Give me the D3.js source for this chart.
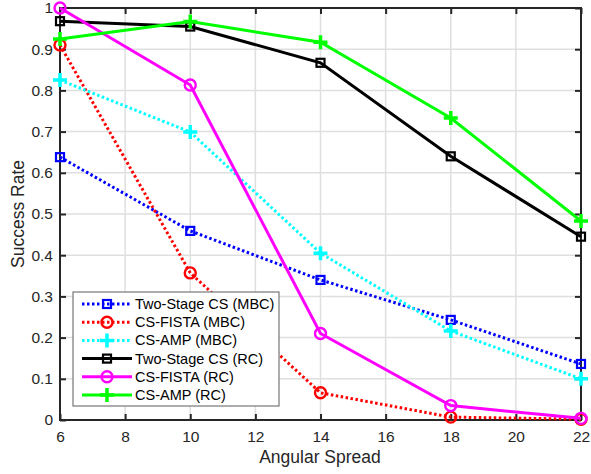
<!DOCTYPE html>
<html><head><meta charset="utf-8">
<script src="https://cdn.jsdelivr.net/npm/d3@7"></script>
<style>body{margin:0;background:#fff;} text{font-family:"Liberation Sans",Arial,Helvetica,sans-serif;}</style>
</head><body><svg id="c" width="591" height="474"></svg>
<script>
const xValues = [6, 10, 14, 18, 22];
const xTicks = [6, 8, 10, 12, 14, 16, 18, 20, 22];
const yTicks = [0, 0.1, 0.2, 0.3, 0.4, 0.5, 0.6, 0.7, 0.8, 0.9, 1];
const seriesNames = ["Two-Stage CS (MBC)", "CS-FISTA (MBC)", "CS-AMP (MBC)", "Two-Stage CS (RC)", "CS-FISTA (RC)", "CS-AMP (RC)"];
const twoStageMBC = [0.638, 0.459, 0.340, 0.243, 0.136];
const fistaMBC    = [0.910, 0.357, 0.066, 0.007, 0.002];
const ampMBC      = [0.825, 0.699, 0.405, 0.216, 0.100];
const twoStageRC  = [0.968, 0.955, 0.867, 0.640, 0.445];
const fistaRC     = [1.000, 0.813, 0.210, 0.035, 0.004];
const ampRC       = [0.925, 0.967, 0.917, 0.733, 0.483];
const seriesValues = [twoStageMBC, fistaMBC, ampMBC, twoStageRC, fistaRC, ampRC];
const colors = ["#0000ff", "#ff0000", "#00ffff", "#000000", "#ff00ff", "#00ff00"];
const markers = ["square", "circle", "plus", "square", "circle", "plus"];
const dotted = [true, true, true, false, false, false];

const svg = d3.select("#c");
const L = 60, R = 581, T = 8, B = 420;
const x = d3.scaleLinear().domain([6, 22]).range([L, R]);
const y = d3.scaleLinear().domain([0, 1]).range([B, T]);
const axisCol = "#262626";

// grid
const g = svg.append("g");
g.selectAll(".gx").data(xTicks).enter().append("line")
  .attr("x1", d => x(d)).attr("x2", d => x(d)).attr("y1", T).attr("y2", B)
  .attr("stroke", "#dfdfdf").attr("stroke-width", 1.5);
g.selectAll(".gy").data(yTicks).enter().append("line")
  .attr("y1", d => y(d)).attr("y2", d => y(d)).attr("x1", L).attr("x2", R)
  .attr("stroke", "#dfdfdf").attr("stroke-width", 1.5);

// axes
const xa = svg.append("g").attr("transform", `translate(0,${B})`)
  .call(d3.axisBottom(x).tickValues(xTicks).tickSize(-6).tickPadding(11).tickFormat(d3.format("d")));
const xt = svg.append("g").attr("transform", `translate(0,${T})`)
  .call(d3.axisTop(x).tickValues(xTicks).tickSize(-6).tickFormat(""));
const ya = svg.append("g").attr("transform", `translate(${L},0)`)
  .call(d3.axisLeft(y).tickValues(yTicks).tickSize(-6).tickPadding(7).tickFormat(d => d === 0 ? "0" : d === 1 ? "1" : d3.format(".1f")(d)));
const yr = svg.append("g").attr("transform", `translate(${R},0)`)
  .call(d3.axisRight(y).tickValues(yTicks).tickSize(-6).tickFormat(""));
[xa, xt, ya, yr].forEach(a => {
  a.select(".domain").remove();
  a.selectAll(".tick line").attr("stroke", axisCol).attr("stroke-width", 2);
  a.selectAll("text").attr("fill", axisCol).attr("font-size", 15.5);
});
svg.append("rect").attr("x", L).attr("y", T).attr("width", R - L).attr("height", B - T)
  .attr("fill", "none").attr("stroke", axisCol).attr("stroke-width", 2);

// series
const line = d3.line().x((d, i) => x(xValues[i])).y(d => y(d));
function drawMarker(sel, type, cx, cy, col, sc) {
  sc = sc || 1;
  if (type === "square") {
    const s = 8 * sc;
    sel.append("rect").attr("x", cx - s / 2).attr("y", cy - s / 2).attr("width", s).attr("height", s)
      .attr("fill", "none").attr("stroke", col).attr("stroke-width", 2.2);
  } else if (type === "circle") {
    sel.append("circle").attr("cx", cx).attr("cy", cy).attr("r", 5.5 * sc)
      .attr("fill", "none").attr("stroke", col).attr("stroke-width", 2.4);
  } else {
    const h = 7 * sc;
    sel.append("path").attr("d", `M${cx - h},${cy}H${cx + h}M${cx},${cy - h}V${cy + h}`)
      .attr("stroke", col).attr("stroke-width", 3.5).attr("fill", "none");
  }
}
const order = [0, 1, 2, 3, 4, 5];
order.forEach(k => {
  const gs = svg.append("g");
  gs.append("path").datum(seriesValues[k]).attr("d", line)
    .attr("fill", "none").attr("stroke", colors[k]).attr("stroke-width", 3)
    .attr("stroke-dasharray", dotted[k] ? "2.5,2.5" : null);
  seriesValues[k].forEach((v, i) => drawMarker(gs, markers[k], x(xValues[i]), y(v), colors[k]));
});

// legend
const lg = svg.append("g");
lg.append("rect").attr("x", 73).attr("y", 292).attr("width", 206).attr("height", 114)
  .attr("fill", "#fff").attr("stroke", "#777").attr("stroke-width", 1.2);
seriesNames.forEach((n, k) => {
  const ly = 304 + k * 18.2;
  lg.append("line").attr("x1", 82).attr("x2", 132).attr("y1", ly).attr("y2", ly)
    .attr("stroke", colors[k]).attr("stroke-width", 3)
    .attr("stroke-dasharray", dotted[k] ? "2.5,2.5" : null);
  drawMarker(lg, markers[k], 107, ly, colors[k]);
  lg.append("text").attr("x", 135).attr("y", ly + 5).attr("font-size", 14.5).attr("fill", "#000").text(n);
});

// axis titles
svg.append("text").attr("x", 320).attr("y", 463).attr("text-anchor", "middle")
  .attr("font-size", 17.5).attr("fill", axisCol).text("Angular Spread");
svg.append("text").attr("transform", `translate(24,${(T + B) / 2}) rotate(-90)`).attr("text-anchor", "middle")
  .attr("font-size", 17.5).attr("fill", axisCol).text("Success Rate");
</script></body></html>
